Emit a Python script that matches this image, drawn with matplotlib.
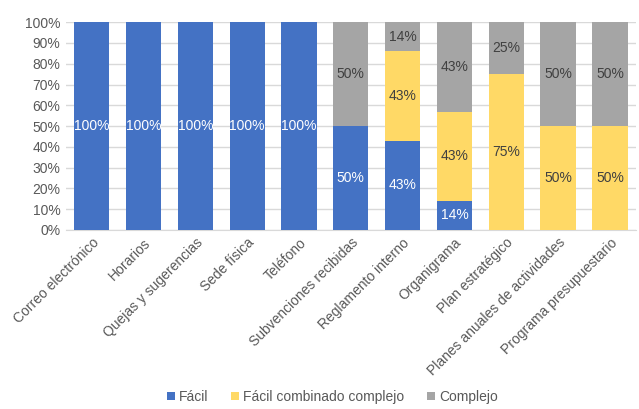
import matplotlib.pyplot as plt
import numpy as np

plt.rcParams['font.family'] = ['Liberation Sans', 'DejaVu Sans']

categories = ["Correo electrónico", "Horarios", "Quejas y sugerencias", "Sede física",
              "Teléfono", "Subvenciones recibidas", "Reglamento interno", "Organigrama",
              "Plan estratégico", "Planes anuales de actividades", "Programa presupuestario"]
facil = [100, 100, 100, 100, 100, 50, 43, 14, 0, 0, 0]
combinado = [0, 0, 0, 0, 0, 0, 43, 43, 75, 50, 50]
complejo = [0, 0, 0, 0, 0, 50, 14, 43, 25, 50, 50]

series = [
    ("Fácil", facil, "#4472C4", "white"),
    ("Fácil combinado complejo", combinado, "#FFD966", "#404040"),
    ("Complejo", complejo, "#A5A5A5", "#404040"),
]

fig = plt.figure(figsize=(6.39, 4.09), dpi=100)
ax = fig.add_axes([0.103, 0.4377, 0.892, 0.508])

x = np.arange(len(categories))
bottom = np.zeros(len(categories))
for name, vals, color, txtcolor in series:
    vals = np.array(vals, dtype=float)
    bars = ax.bar(x, vals, 0.68, bottom=bottom, color=color, label=name, zorder=3)
    for b, v, y0 in zip(bars, vals, bottom):
        if v > 0:
            ax.text(b.get_x() + b.get_width() / 2, y0 + v / 2, f"{v:.0f}%",
                    ha="center", va="center", color=txtcolor, fontsize=10, zorder=4)
    bottom += vals

ax.set_xlim(-0.5, len(categories) - 0.5)
ax.set_ylim(0, 100)
ax.set_yticks(np.arange(0, 101, 10))
ax.set_yticklabels([f"{t}%" for t in range(0, 101, 10)])
ax.yaxis.grid(True, color="#D9D9D9", linewidth=1, zorder=0)
ax.set_axisbelow(True)
for s in ["top", "right", "left"]:
    ax.spines[s].set_visible(False)
ax.spines["bottom"].set_color("#D9D9D9")
ax.tick_params(axis="both", length=0, labelsize=10, colors="#595959", pad=4)
ax.set_xticks(x)
ax.set_xticklabels(categories, rotation=45, ha="right", rotation_mode="anchor")

handles, labels = ax.get_legend_handles_labels()
fig.legend(handles, labels, loc="lower center", bbox_to_anchor=(0.52, -0.018), ncol=3,
           frameon=False, fontsize=10, handlelength=0.6, handleheight=0.6,
           handletextpad=0.3, columnspacing=1.6, labelcolor="#595959")

fig.savefig("out.png", dpi=100)
